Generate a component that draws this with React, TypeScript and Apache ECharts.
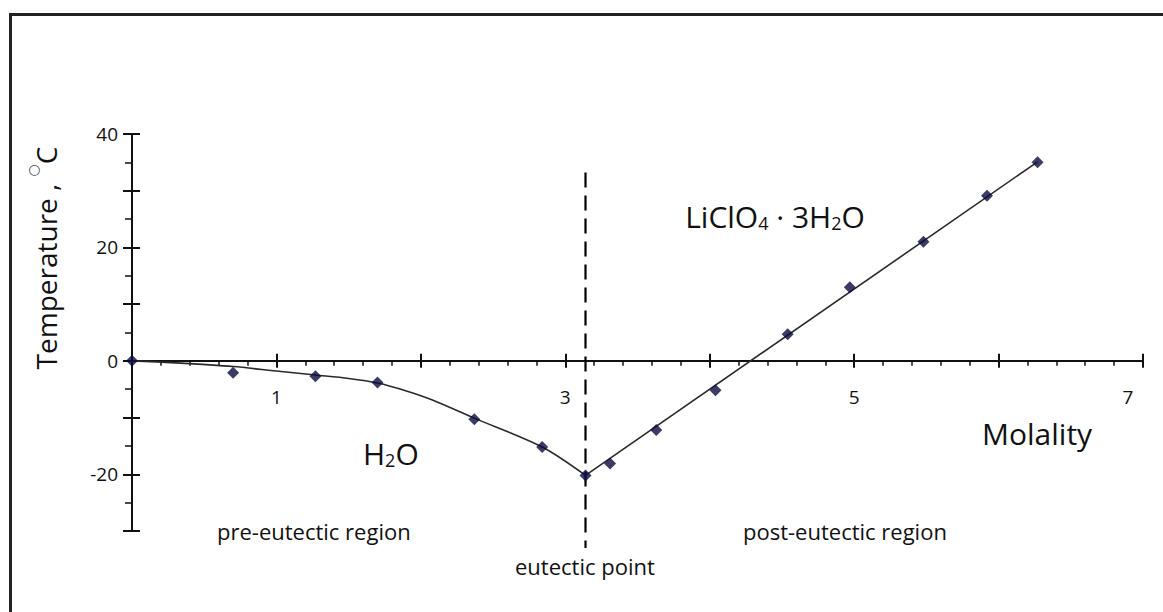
import React, { useEffect, useRef } from 'react';
import * as echarts from 'echarts';

// Measured points (molality, temperature °C)
const molality = [0, 0.7, 1.27, 1.7, 2.37, 2.84, 3.14, 3.31, 3.63, 4.04, 4.54, 4.97, 5.48, 5.92, 6.27];
const temperature = [0, -2.1, -2.7, -3.8, -10.3, -15.2, -20.2, -18.1, -12.2, -5.2, 4.7, 13.0, 21.0, 29.1, 35.0];

// Fitted curve, pre-eutectic (ice) branch
const preCurveX = [0, 0.3, 0.7, 1.0, 1.27, 1.5, 1.7, 1.9, 2.08, 2.37, 2.84, 3.14];
const preCurveY = [0, -0.35, -1.0, -1.8, -2.5, -3.1, -3.9, -5.3, -6.9, -10.1, -15.2, -20.2];

// Fitted line, post-eutectic (LiClO4·3H2O) branch
const postLineX = [3.14, 6.27];
const postLineY = [-20.2, 35.1];

// Eutectic marker
const eutecticX = 3.14;
const eutecticSpan = [33.2, -33.0];

// Tick labels shown
const xLabelValues = [1, 3, 5, 7];
const yLabelValues = [40, 20, 0, -20];

const Y_MIN = -30;
const Y_MAX = 40;
const GRID_TOP = 134;
const GRID_H = 397;

const FONT = 'Open Sans';

export default function App() {
  const ref = useRef<HTMLDivElement>(null);

  useEffect(() => {
    if (!ref.current) return;
    const chart = echarts.init(ref.current, undefined, { renderer: 'svg' });

    const axisColor = '#111';
    // distance from grid bottom up to the y = 0 line
    const zeroOffset = (GRID_H * (0 - Y_MIN)) / (Y_MAX - Y_MIN);

    const baseX = {
      type: 'value' as const,
      min: 0,
      max: 7,
      interval: 1,
      axisLine: { show: true, onZero: true, lineStyle: { color: axisColor, width: 2 } },
      splitLine: { show: false },
    };
    const baseY = {
      type: 'value' as const,
      min: Y_MIN,
      max: Y_MAX,
      interval: 10,
      axisLine: { show: true, onZero: true, lineStyle: { color: axisColor, width: 2 } },
      splitLine: { show: false },
    };

    chart.setOption({
      animation: false,
      backgroundColor: '#fff',
      grid: { left: 132, top: GRID_TOP, width: 1011, height: GRID_H, containLabel: false },
      xAxis: [
        {
          ...baseX,
          position: 'bottom',
          axisTick: { show: true, length: 7, lineStyle: { color: axisColor, width: 2 } },
          minorTick: { show: true, splitNumber: 5, length: 5, lineStyle: { color: axisColor, width: 1.5 } },
          axisLabel: { show: false },
        },
        {
          ...baseX,
          position: 'top',
          axisTick: { show: true, length: 7, lineStyle: { color: axisColor, width: 2 } },
          axisLabel: { show: false },
        },
        {
          ...baseX,
          position: 'bottom',
          offset: -zeroOffset,
          axisLine: { show: false, onZero: false },
          axisTick: { show: false },
          axisLabel: {
            show: true,
            margin: 27,
            fontSize: 19,
            fontFamily: FONT,
            color: '#111',
            formatter: (v: number) => {
              if (!xLabelValues.includes(v)) return '';
              return v === 7 ? '{r|7}' : String(v);
            },
            rich: {
              r: { fontSize: 19, fontFamily: FONT, color: '#111', padding: [0, 30, 0, 0] },
            },
          },
        },
      ],
      yAxis: [
        {
          ...baseY,
          position: 'left',
          axisTick: { show: true, length: 9, lineStyle: { color: axisColor, width: 2 } },
          minorTick: { show: true, splitNumber: 2, length: 7, lineStyle: { color: axisColor, width: 1.5 } },
          axisLabel: {
            show: true,
            margin: 14,
            fontSize: 19,
            fontFamily: FONT,
            color: '#111',
            formatter: (v: number) => (yLabelValues.includes(v) ? String(v) : ''),
          },
        },
        {
          ...baseY,
          position: 'right',
          axisTick: { show: true, length: 8, lineStyle: { color: axisColor, width: 2 } },
          axisLabel: { show: false },
        },
      ],
      series: [
        {
          type: 'line',
          xAxisIndex: 0,
          yAxisIndex: 0,
          data: preCurveX.map((x, i) => [x, preCurveY[i]]),
          smooth: 0.3,
          showSymbol: false,
          symbol: 'none',
          lineStyle: { color: '#2a2a2a', width: 1.6 },
          z: 3,
        },
        {
          type: 'line',
          xAxisIndex: 0,
          yAxisIndex: 0,
          data: postLineX.map((x, i) => [x, postLineY[i]]),
          showSymbol: false,
          symbol: 'none',
          lineStyle: { color: '#2a2a2a', width: 1.6 },
          z: 3,
        },
        {
          type: 'line',
          xAxisIndex: 0,
          yAxisIndex: 0,
          clip: false,
          data: eutecticSpan.map((y) => [eutecticX, y]),
          showSymbol: false,
          symbol: 'none',
          lineStyle: { color: '#000', width: 2.2, type: [15, 8] },
          z: 2,
        },
        {
          type: 'scatter',
          xAxisIndex: 0,
          yAxisIndex: 0,
          data: molality.map((x, i) => [x, temperature[i]]),
          symbol: 'diamond',
          symbolSize: 12,
          itemStyle: { color: '#0a0a3c' },
          z: 4,
        },
      ],
      graphic: [
        { type: 'rect', shape: { x: 9, y: 13, width: 1160, height: 3 }, style: { fill: '#222' }, silent: true },
        { type: 'rect', shape: { x: 9, y: 13, width: 3, height: 610 }, style: { fill: '#222' }, silent: true },
        {
          type: 'text',
          x: 46,
          y: 258,
          rotation: Math.PI / 2,
          style: {
            text: '{a|Temperature , }{s|○}{a|C}',
            align: 'center',
            verticalAlign: 'middle',
            rich: {
              a: { fontSize: 28, fontFamily: FONT, fill: '#111', lineHeight: 40 },
              s: { fontSize: 14, fontFamily: 'DejaVu Sans', fill: '#444', lineHeight: 14, verticalAlign: 'top' },
            },
          },
        },
        {
          type: 'text',
          x: 775,
          y: 216.6,
          style: {
            text: '{a|LiClO}{b|4}{a| · 3H}{b|2}{a|O}',
            align: 'center',
            verticalAlign: 'middle',
            rich: {
              a: { fontSize: 30, fontFamily: FONT, fill: '#111', lineHeight: 30 },
              b: { fontSize: 18, fontFamily: FONT, fill: '#111', lineHeight: 21, verticalAlign: 'bottom' },
            },
          },
        },
        {
          type: 'text',
          x: 363,
          y: 453.6,
          style: {
            text: '{a|H}{b|2}{a|O}',
            align: 'left',
            verticalAlign: 'middle',
            rich: {
              a: { fontSize: 30, fontFamily: FONT, fill: '#111', lineHeight: 30 },
              b: { fontSize: 18, fontFamily: FONT, fill: '#111', lineHeight: 21, verticalAlign: 'bottom' },
            },
          },
        },
        {
          type: 'text',
          x: 982,
          y: 433.6,
          style: { text: 'Molality', fontSize: 30, fontFamily: FONT, fill: '#111', align: 'left', verticalAlign: 'middle' },
        },
        {
          type: 'text',
          x: 217,
          y: 531,
          style: { text: 'pre-eutectic region', fontSize: 22, fontFamily: FONT, fill: '#111', align: 'left', verticalAlign: 'middle' },
        },
        {
          type: 'text',
          x: 743,
          y: 531,
          style: { text: 'post-eutectic region', fontSize: 22, fontFamily: FONT, fill: '#111', align: 'left', verticalAlign: 'middle' },
        },
        {
          type: 'text',
          x: 515,
          y: 566,
          style: { text: 'eutectic point', fontSize: 22, fontFamily: FONT, fill: '#111', align: 'left', verticalAlign: 'middle' },
        },
      ],
    });

    return () => {
      chart.dispose();
    };
  }, []);

  return (
    <div
      ref={ref}
      style={{ position: 'fixed', left: 0, top: 0, width: 1163, height: 612, background: '#fff' }}
    />
  );
}
